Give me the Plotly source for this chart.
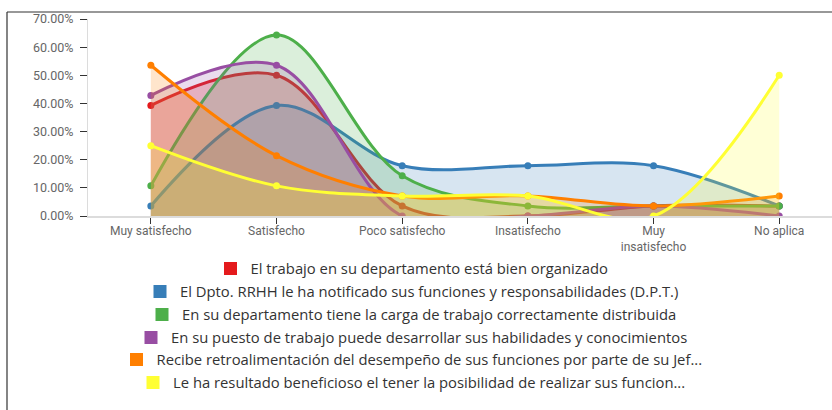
import plotly.graph_objects as go

categories = ["Muy satisfecho", "Satisfecho", "Poco satisfecho", "Insatisfecho", "Muy<br>insatisfecho", "No aplica"]

series_names = [
    "El trabajo en su departamento está bien organizado",
    "El Dpto. RRHH le ha notificado sus funciones y responsabilidades (D.P.T.)",
    "En su departamento tiene la carga de trabajo correctamente distribuida",
    "En su puesto de trabajo puede desarrollar sus habilidades y conocimientos",
    "Recibe retroalimentación del desempeño de sus funciones por parte de su Jef...",
    "Le ha resultado beneficioso el tener la posibilidad de realizar sus funcion...",
]

organizado = [39.29, 50.00, 3.57, 0.00, 3.57, 3.57]
notificado = [3.57, 39.29, 17.86, 17.86, 17.86, 3.57]
carga = [10.71, 64.29, 14.29, 3.57, 3.57, 3.57]
habilidades = [42.86, 53.57, 0.00, 0.00, 3.57, 0.00]
retroalimentacion = [53.57, 21.43, 7.14, 7.14, 3.57, 7.14]
beneficioso = [25.00, 10.71, 7.14, 7.14, 0.00, 50.00]

y_ticks = [0, 10, 20, 30, 40, 50, 60, 70]
y_tick_labels = ["0.00%", "10.00%", "20.00%", "30.00%", "40.00%", "50.00%", "60.00%", "70.00%"]

series_values = [organizado, notificado, carga, habilidades, retroalimentacion, beneficioso]
colors = ["#e41a1c", "#377eb8", "#4daf4a", "#984ea3", "#ff7f00", "#ffff33"]
fills = ["rgba(228,26,28,0.24)", "rgba(55,126,184,0.2)", "rgba(77,175,74,0.2)",
         "rgba(152,78,163,0.2)", "rgba(255,127,0,0.2)", "rgba(255,255,51,0.2)"]

W, H = 832, 410
L, T, B = 88, 19, 216
plot_h = B - T

fig = go.Figure()
for name, vals, c, fc in zip(series_names, series_values, colors, fills):
    fig.add_trace(go.Scatter(
        x=list(range(len(categories))), y=vals, mode="lines+markers",
        line=dict(color=c, width=3, shape="spline", smoothing=1.0),
        marker=dict(color=c, size=7),
        fill="tozeroy", fillcolor=fc, showlegend=False, name=name, cliponaxis=True,
    ))

legend_rows = [269, 292, 315, 338, 360, 383]
for i, (name, c, ypx) in enumerate(zip(series_names, colors, legend_rows)):
    lname = "legend" if i == 0 else f"legend{i+1}"
    fig.add_trace(go.Scatter(
        x=[None], y=[None], mode="markers", name=name,
        marker=dict(color=c, size=13, symbol="square"),
        showlegend=True, legend=lname,
    ))
    fig.update_layout(**{lname: dict(
        x=(412 - L) / (W - L), xanchor="center",
        y=(B - ypx) / plot_h, yanchor="middle",
        bgcolor="rgba(0,0,0,0)", itemwidth=30,
        font=dict(family="Open Sans", size=14.8, color="#333"),
        tracegroupgap=0,
    )})

fig.update_layout(
    width=W, height=H,
    margin=dict(l=L, r=0, t=T, b=H - B),
    paper_bgcolor="white", plot_bgcolor="white",
    xaxis=dict(
        tickmode="array", tickvals=list(range(len(categories))), ticktext=categories,
        range=[-0.5, 5.42], showgrid=False, zeroline=False,
        showline=True, linecolor="#dcdcdc", linewidth=2,
        ticks="outside", tickson="boundaries", ticklen=6, tickcolor="#333", tickwidth=1,
        ticklabelstandoff=-3,
        tickfont=dict(family="Roboto", size=12, color="#666"),
    ),
    yaxis=dict(
        range=[0, 70], tickmode="array", tickvals=y_ticks, ticktext=y_tick_labels,
        showgrid=False, zeroline=False,
        showline=True, linecolor="#dcdcdc", linewidth=1,
        ticks="outside", ticklen=7, tickcolor="#333", ticklabelstandoff=4,
        tickfont=dict(family="Roboto", size=12.5, color="#666"),
    ),
    shapes=[
        dict(type="line", xref="paper", yref="paper",
             x0=(7 - L) / (W - L), x1=1.0, y0=(B - 12) / plot_h, y1=(B - 12) / plot_h,
             line=dict(color="#333", width=1.2)),
        dict(type="line", xref="paper", yref="paper",
             x0=(7 - L) / (W - L), x1=(7 - L) / (W - L), y0=(B - 12) / plot_h, y1=(B - 420) / plot_h,
             line=dict(color="#333", width=1.2)),
    ],
    hovermode=False,
)

fig.write_html("out.html", config={"displayModeBar": False, "staticPlot": True},
               post_script="document.body.style.margin='0';document.body.style.overflow='hidden';")
